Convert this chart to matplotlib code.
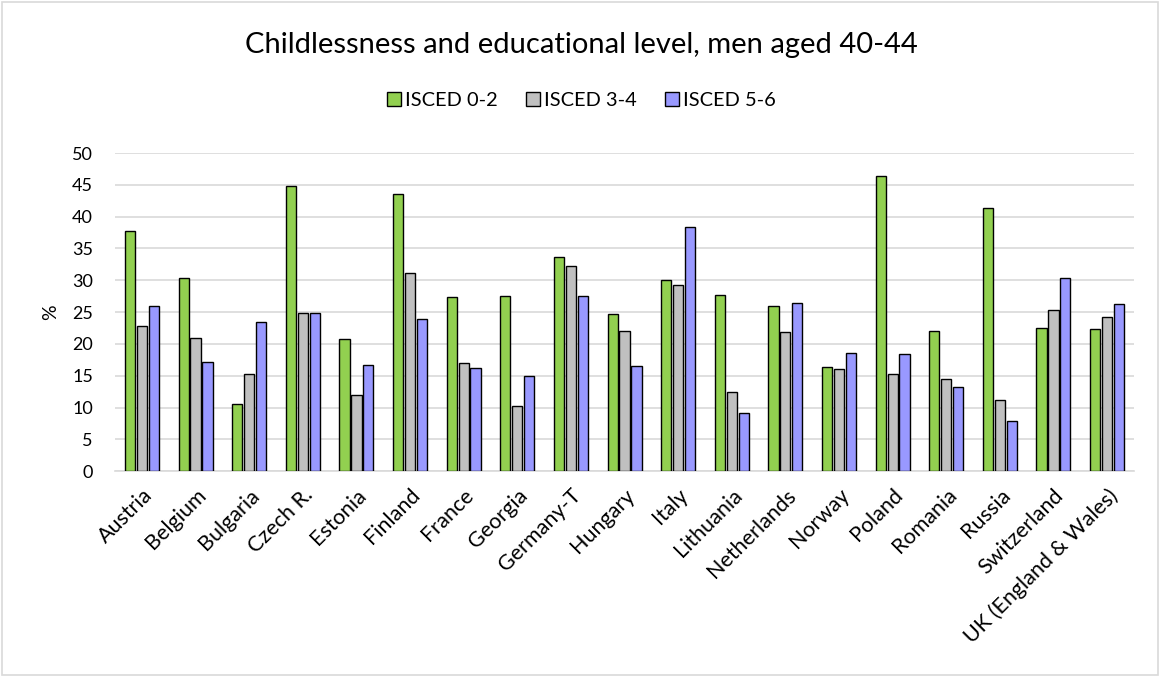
import numpy as np
import matplotlib.pyplot as plt
from matplotlib.patches import Rectangle

plt.rcParams['font.family'] = ['Lato', 'DejaVu Sans']

# Data
countries = ['Austria', 'Belgium', 'Bulgaria', 'Czech R.', 'Estonia', 'Finland',
             'France', 'Georgia', 'Germany-T', 'Hungary', 'Italy', 'Lithuania',
             'Netherlands', 'Norway', 'Poland', 'Romania', 'Russia',
             'Switzerland', 'UK (England & Wales)']
isced_02 = [37.8, 30.3, 10.5, 44.8, 20.8, 43.5, 27.4, 27.5, 33.7, 24.7,
            30.1, 27.7, 25.9, 16.3, 46.4, 22.0, 41.4, 22.5, 22.4]
isced_34 = [22.8, 20.9, 15.3, 24.8, 12.0, 31.1, 17.0, 10.2, 32.3, 22.1,
            29.3, 12.5, 21.8, 16.1, 15.3, 14.5, 11.2, 25.3, 24.2]
isced_56 = [25.9, 17.2, 23.4, 24.9, 16.7, 23.9, 16.2, 14.9, 27.6, 16.6,
            38.3, 9.1, 26.5, 18.5, 18.4, 13.3, 7.9, 30.3, 26.2]
series_names = ['ISCED 0-2', 'ISCED 3-4', 'ISCED 5-6']
colors = ['#92D050', '#C0C0C0', '#9999FF']

fig = plt.figure(figsize=(11.63, 6.77), dpi=100)
ax = fig.add_axes([0.099, 0.304, 0.876, 0.470])

# light border around the chart area
fig.patches.append(Rectangle((0.002, 0.003), 0.994, 0.994, transform=fig.transFigure,
                             fill=False, edgecolor='#D9D9D9', linewidth=1.2))

x = np.arange(len(countries))
width = 0.19
step = 0.222
for i, (vals, name, c) in enumerate(zip([isced_02, isced_34, isced_56], series_names, colors)):
    ax.bar(x + (i - 1) * step, vals, width, color=c, edgecolor='black',
           linewidth=1.0, label=name, zorder=3)

ax.set_xlim(-0.5, len(countries) - 0.5)
ax.set_ylim(0, 50)
ax.set_yticks(np.arange(0, 51, 5))
ax.grid(axis='y', color='#D9D9D9', linewidth=1.2, zorder=0)
ax.set_axisbelow(True)
for s in ['top', 'right', 'left']:
    ax.spines[s].set_visible(False)
ax.spines['bottom'].set_color('#D9D9D9')
ax.spines['bottom'].set_linewidth(1.2)
ax.tick_params(axis='both', length=0, colors='black')
ax.tick_params(axis='y', pad=16, labelsize=13)
ax.set_xticks(x)
ax.set_xticklabels(countries, rotation=45, ha='right', rotation_mode='anchor')
ax.tick_params(axis='x', pad=10, labelsize=15.5)
ax.set_ylabel('%', fontsize=14, labelpad=9)

fig.text(0.5, 0.933, 'Childlessness and educational level, men aged 40-44',
         ha='center', va='center', fontsize=21)
fig.legend(loc='center', bbox_to_anchor=(0.5, 0.852), ncol=3, frameon=False,
           fontsize=14.4, handlelength=0.7, handleheight=0.7, handletextpad=0.2,
           columnspacing=1.4)

fig.savefig('out.png', dpi=100)
